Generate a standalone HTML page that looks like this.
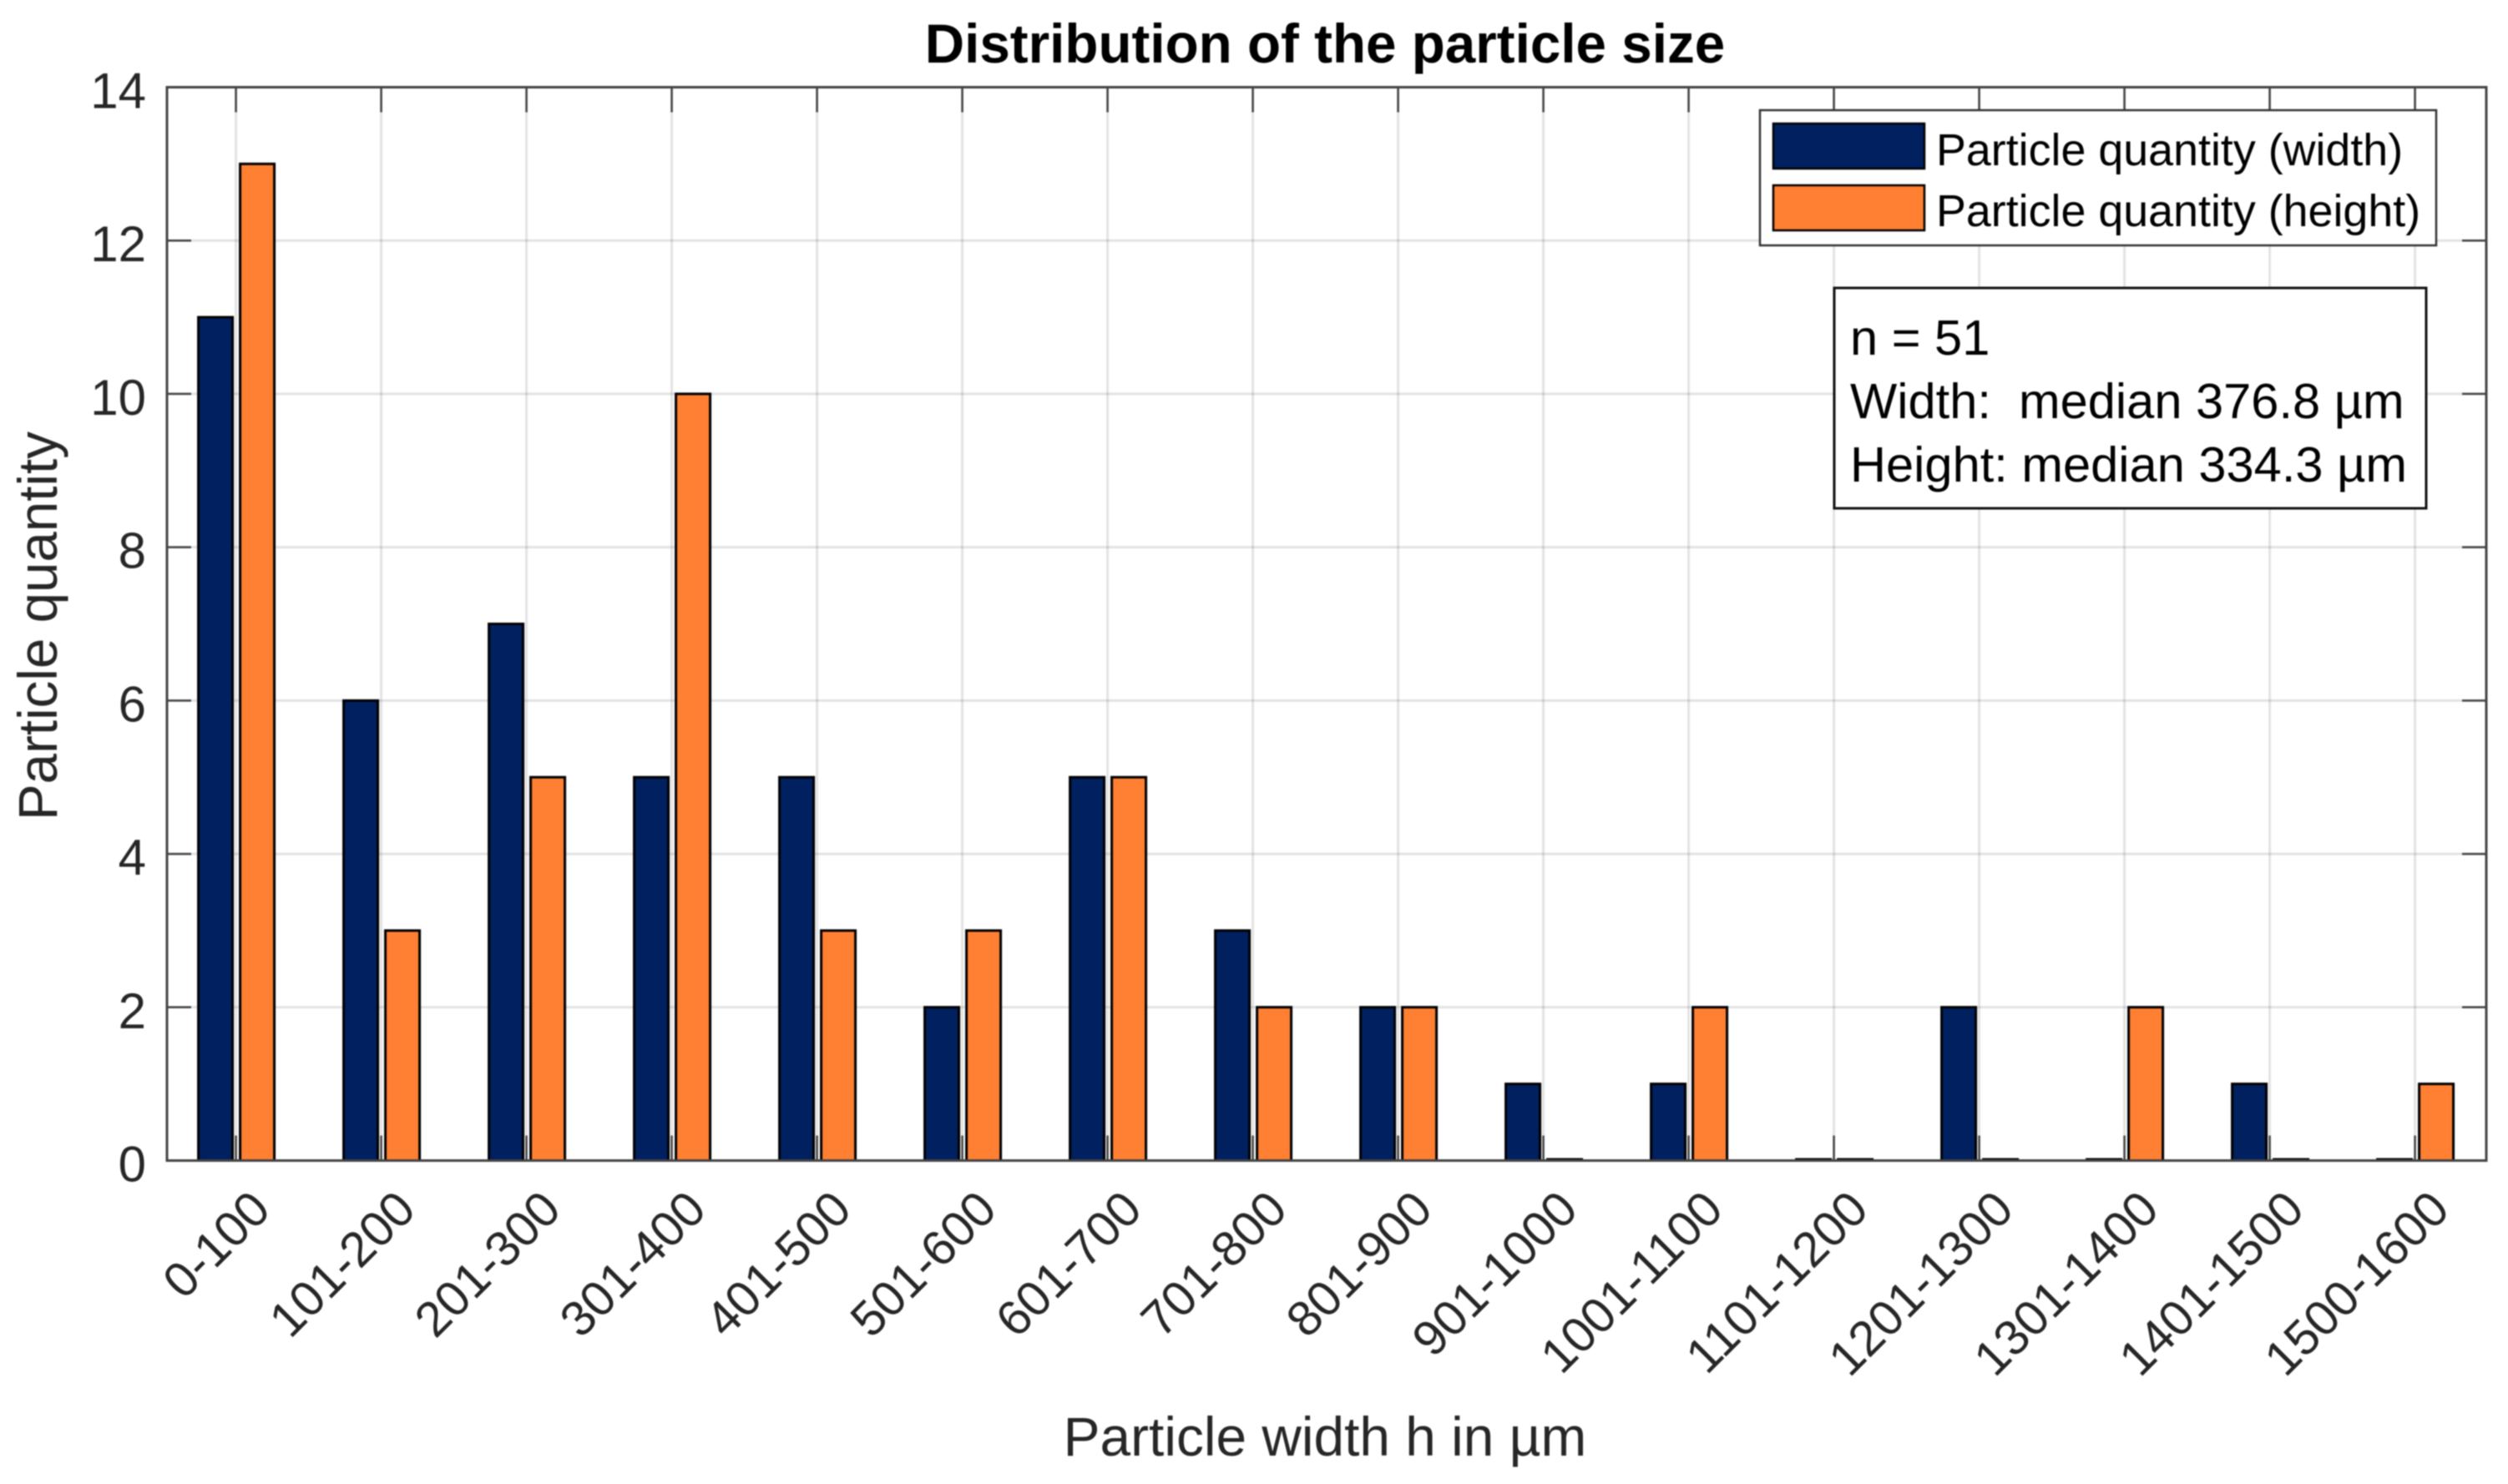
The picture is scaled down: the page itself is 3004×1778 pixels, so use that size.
<!DOCTYPE html>
<html lang="en">
<head>
<meta charset="utf-8">
<title>Distribution of the particle size</title>
<style>
html,body{margin:0;padding:0;background:#fff;}
svg{display:block;font-family:"Liberation Sans",Arial,sans-serif;filter:blur(0.7px);}
</style>
</head>
<body>
<svg id="chart" xmlns="http://www.w3.org/2000/svg" width="3004" height="1778" viewBox="0 0 3004 1778">
  <rect x="0" y="0" width="3004" height="1778" fill="#fff"/>
  <text x="1587" y="75" font-size="65.6" font-weight="bold" fill="#000" text-anchor="middle">Distribution of the particle size</text>
  <g id="grid"></g>
  <g id="bars"></g>
  <g id="axes"></g>
  <g id="ylabels"></g>
  <g id="xlabels"></g>
  <text transform="translate(68,750) rotate(-90)" font-size="65.5" fill="#262626" text-anchor="middle">Particle quantity</text>
  <text x="1587" y="1744" font-size="65.8" fill="#262626" text-anchor="middle">Particle width h in µm</text>

  <g>
    <rect x="2108" y="132" width="810" height="162" fill="#fff" stroke="#333" stroke-width="2.5"/>
    <rect x="2124" y="148" width="181" height="54" fill="#002060" stroke="#000" stroke-width="2.5"/>
    <text x="2319" y="198" font-size="53.8" fill="#000">Particle quantity (width)</text>
    <rect x="2124" y="222" width="181" height="54" fill="#FF8033" stroke="#000" stroke-width="2.5"/>
    <text x="2319" y="271" font-size="53.8" fill="#000">Particle quantity (height)</text>
  </g>

  <g>
    <rect x="2197" y="345" width="709" height="264" fill="#fff" stroke="#111" stroke-width="3"/>
    <text x="2216" y="425" font-size="59.6" fill="#000" style="white-space:pre">n = 51</text>
    <text x="2216" y="501" font-size="59.6" fill="#000" style="white-space:pre">Width:  median 376.8 µm</text>
    <text x="2216" y="577" font-size="59.6" fill="#000" style="white-space:pre">Height: median 334.3 µm</text>
  </g>
</svg>

<script>
const categories = ["0-100","101-200","201-300","301-400","401-500","501-600","601-700","701-800","801-900","901-1000","1001-1100","1101-1200","1201-1300","1301-1400","1401-1500","1500-1600"];
const widthCounts = [11,6,7,5,5,2,5,3,2,1,1,0,2,0,1,0];
const heightCounts = [13,3,5,10,3,3,5,2,2,0,2,0,0,2,0,1];
const yTicks = [0,2,4,6,8,10,12,14];

const NS = "http://www.w3.org/2000/svg";
const plotLeft = 200, plotRight = 2978, plotTop = 104.5, plotBottom = 1390.5;
const xFirst = 282.6, xStep = 174;
const yMax = 14;
const barWidth = 41;

function xPos(i){ return xFirst + i * xStep; }
function yPos(v){ return plotBottom - (v / yMax) * (plotBottom - plotTop); }
function barHeight(v){ return Math.max(plotBottom - yPos(v), 1.5); }
function make(tag, attrs, parent){
  const el = document.createElementNS(NS, tag);
  for (const k in attrs) el.setAttribute(k, attrs[k]);
  parent.appendChild(el);
  return el;
}

const gridG = document.getElementById("grid");
const barsG = document.getElementById("bars");
const axesG = document.getElementById("axes");
const yLabG = document.getElementById("ylabels");
const xLabG = document.getElementById("xlabels");

const gridStyle = {stroke:"#262626","stroke-opacity":"0.13","stroke-width":"3",fill:"none"};
const tickStyle = {stroke:"#444","stroke-width":"2.5",fill:"none"};

yTicks.forEach(function(v){
  const y = yPos(v);
  const g = make("line", Object.assign({x1:plotLeft,x2:plotRight,y1:y,y2:y}, gridStyle), gridG);
  
  
  const tl = make("line", Object.assign({x1:plotLeft,x2:plotLeft+29,y1:y,y2:y}, tickStyle), axesG);
  
  
  const tr = make("line", Object.assign({x1:plotRight-29,x2:plotRight,y1:y,y2:y}, tickStyle), axesG);
  
  
  const lab = make("text", {x:175,y:y+25,"font-size":"60",fill:"#262626","text-anchor":"end"}, yLabG);
  
  
  lab.textContent = String(v);
});

categories.forEach(function(c, i){
  const x = xPos(i);
  const g = make("line", Object.assign({x1:x,x2:x,y1:plotTop,y2:plotBottom}, gridStyle), gridG);
  
  
  const tt = make("line", Object.assign({x1:x,x2:x,y1:plotTop,y2:plotTop+30}, tickStyle), axesG);
  
  
  const tb = make("line", Object.assign({x1:x,x2:x,y1:plotBottom-30,y2:plotBottom}, tickStyle), axesG);
  
  

  const hw = barHeight(widthCounts[i]);
  const bw = make("rect", {x:x-45,y:plotBottom-hw,width:barWidth,height:hw,fill:"#002060",stroke:"#000","stroke-width":"3"}, barsG);
  
  
  const hh = barHeight(heightCounts[i]);
  const bh = make("rect", {x:x+5,y:plotBottom-hh,width:barWidth,height:hh,fill:"#FF8033",stroke:"#000","stroke-width":"3"}, barsG);
  
  

  const lx = x + 44, ly = 1452;
  const lab = make("text", {x:lx,y:ly,"font-size":"59","fill":"#262626","text-anchor":"end",transform:"rotate(-45 "+lx+" "+ly+")"}, xLabG);
  
  
  lab.textContent = c;
});

const frame = make("rect", {x:plotLeft,y:plotTop,width:plotRight-plotLeft,height:plotBottom-plotTop,fill:"none",stroke:"#444","stroke-width":"3"}, axesG);


</script>
</body>
</html>
